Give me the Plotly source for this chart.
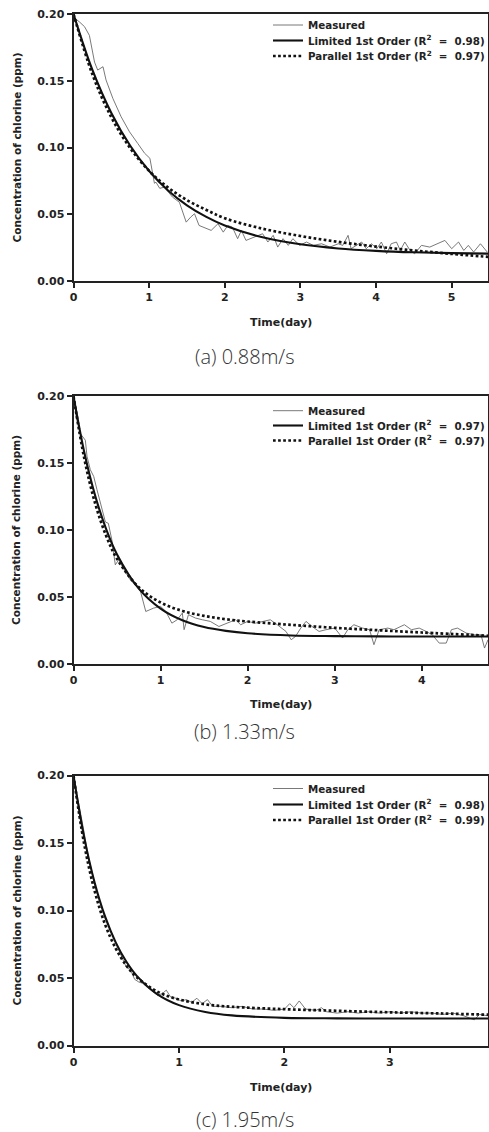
import plotly.graph_objects as go

W, H = 489, 1132

# ---------------- data ----------------
# (a) 0.88 m/s
t_meas_a = [0, 0.013, 0.08, 0.146, 0.21, 0.234, 0.278, 0.32, 0.39, 0.43,
            0.52, 0.63, 0.74, 0.85, 0.94, 1.01, 1.04, 1.07, 1.09, 1.14,
            1.20, 1.31, 1.40, 1.44, 1.49, 1.55, 1.60, 1.66, 1.82, 1.91,
            1.98, 2.04, 2.10, 2.17, 2.22, 2.28, 2.39, 2.50, 2.57, 2.64,
            2.70, 2.77, 2.84, 2.90, 2.99, 3.08, 3.17, 3.28, 3.39, 3.50,
            3.56, 3.63, 3.67, 3.74, 3.81, 3.87, 3.94, 4.01, 4.07, 4.14,
            4.20, 4.27, 4.32, 4.38, 4.45, 4.51, 4.60, 4.71, 4.80, 4.91,
            5.00, 5.09, 5.16, 5.22, 5.29, 5.38, 5.47]
c_meas_a = [0.200, 0.197, 0.194, 0.1905, 0.184, 0.177, 0.164, 0.158, 0.1605, 0.1506,
            0.1368, 0.123, 0.1118, 0.103, 0.0957, 0.0919, 0.0831, 0.0732, 0.074, 0.0694,
            0.0703, 0.0628, 0.059, 0.0529, 0.0441, 0.0479, 0.0504, 0.0416, 0.0379, 0.0429,
            0.0366, 0.0416, 0.0404, 0.0317, 0.0379, 0.0304, 0.0329, 0.0354, 0.0292, 0.0342,
            0.0254, 0.0317, 0.0267, 0.0317, 0.0267, 0.0292, 0.0267, 0.0279, 0.0254, 0.0279,
            0.0267, 0.0342, 0.0242, 0.0267, 0.0292, 0.0242, 0.0279, 0.0242, 0.0292, 0.0204,
            0.0279, 0.0292, 0.0229, 0.0292, 0.0229, 0.0204, 0.0267, 0.0254, 0.0279, 0.0304,
            0.0242, 0.0292, 0.0229, 0.0267, 0.0217, 0.0279, 0.0217]
t_fit_a = [0, 0.25, 0.5, 0.75, 1.0, 1.25, 1.5, 1.75, 2.0, 2.5, 3.0, 3.5, 4.0, 4.5, 5.0, 5.5]
limited_a = [0.200, 0.1581, 0.1259, 0.1013, 0.0824, 0.0678, 0.0567, 0.0482, 0.0416,
             0.0327, 0.0275, 0.0244, 0.0226, 0.0215, 0.0209, 0.0205]
parallel_a = [0.200, 0.1548, 0.1227, 0.0995, 0.0825, 0.0700, 0.0606, 0.0534, 0.0470,
              0.0392, 0.0337, 0.0293, 0.0258, 0.0229, 0.0203, 0.0180]

# (b) 1.33 m/s
t_meas_b = [0, 0.009, 0.03, 0.078, 0.136, 0.155, 0.193, 0.232, 0.27, 0.33,
            0.366, 0.40, 0.44, 0.48, 0.52, 0.58, 0.65, 0.73, 0.77, 0.83,
            0.92, 1.0, 1.06, 1.13, 1.19, 1.25, 1.27, 1.32, 1.40, 1.48,
            1.57, 1.67, 1.77, 1.86, 1.92, 2.0, 2.09, 2.19, 2.26, 2.34,
            2.44, 2.50, 2.55, 2.61, 2.67, 2.74, 2.82, 2.90, 3.0, 3.09,
            3.15, 3.22, 3.32, 3.40, 3.45, 3.51, 3.61, 3.68, 3.80, 3.88,
            3.97, 4.05, 4.12, 4.20, 4.28, 4.34, 4.41, 4.51, 4.60, 4.68,
            4.72, 4.76]
c_meas_b = [0.200, 0.197, 0.1846, 0.172, 0.167, 0.155, 0.145, 0.140, 0.130, 0.115,
            0.106, 0.105, 0.0927, 0.074, 0.0778, 0.0703, 0.0629, 0.058, 0.054, 0.0392,
            0.0417, 0.043, 0.0392, 0.0305, 0.033, 0.038, 0.0256, 0.0368, 0.0343, 0.033,
            0.0318, 0.028, 0.0305, 0.033, 0.0293, 0.0318, 0.0305, 0.0318, 0.033, 0.0293,
            0.0243, 0.0181, 0.0206, 0.0268, 0.0318, 0.028, 0.0243, 0.0256, 0.0268, 0.0194,
            0.0256, 0.0293, 0.0268, 0.0256, 0.0144, 0.0256, 0.0268, 0.0256, 0.0293, 0.0256,
            0.0268, 0.0243, 0.0218, 0.0156, 0.0156, 0.0256, 0.0268, 0.0231, 0.0218, 0.0218,
            0.0119, 0.0181]
t_fit_b = [0, 0.125, 0.25, 0.375, 0.5, 0.75, 1.0, 1.25, 1.5, 1.75, 2.0, 2.5, 3.0, 3.5, 4.0, 4.76]
limited_b = [0.200, 0.1577, 0.1254, 0.1007, 0.0818, 0.0563, 0.0414, 0.0327, 0.0276,
             0.0247, 0.0229, 0.0213, 0.0208, 0.0206, 0.0205, 0.0205]
parallel_b = [0.200, 0.1531, 0.1196, 0.0957, 0.0785, 0.0572, 0.0459, 0.0396, 0.0359,
              0.0334, 0.0317, 0.0292, 0.0270, 0.0252, 0.0235, 0.0211]

# (c) 1.95 m/s
t_meas_c = [0, 0.03, 0.06, 0.1, 0.14, 0.18, 0.22, 0.26, 0.3, 0.35,
            0.4, 0.45, 0.5, 0.54, 0.58, 0.62, 0.66, 0.7, 0.75, 0.8,
            0.85, 0.88, 0.92, 0.97, 1.02, 1.07, 1.12, 1.17, 1.22, 1.27,
            1.32, 1.4, 1.5, 1.6, 1.7, 1.8, 1.9, 2.0, 2.05, 2.09,
            2.14, 2.2, 2.3, 2.35, 2.4, 2.5, 2.6, 2.7, 2.8, 2.9,
            3.0, 3.1, 3.2, 3.3, 3.4, 3.5, 3.6, 3.7, 3.8, 3.85, 3.93]
c_meas_c = [0.199, 0.188, 0.175, 0.158, 0.140, 0.127, 0.114, 0.104, 0.094, 0.085,
            0.076, 0.066, 0.058, 0.056, 0.049, 0.047, 0.046, 0.043, 0.040, 0.037,
            0.039, 0.041, 0.036, 0.035, 0.033, 0.034, 0.032, 0.035, 0.031, 0.034,
            0.029, 0.029, 0.028, 0.029, 0.027, 0.027, 0.026, 0.027, 0.031, 0.028,
            0.033, 0.027, 0.026, 0.028, 0.025, 0.024, 0.025, 0.024, 0.025, 0.024,
            0.025, 0.024, 0.025, 0.024, 0.024, 0.023, 0.024, 0.022, 0.019, 0.023, 0.022]
t_fit_c = [0, 0.1, 0.2, 0.3, 0.4, 0.5, 0.6, 0.8, 1.0, 1.25, 1.5, 2.0, 2.5, 3.0, 3.5, 3.93]
limited_c = [0.200, 0.1547, 0.1208, 0.0954, 0.0764, 0.0622, 0.0516, 0.0377, 0.0299,
             0.0248, 0.0223, 0.0205, 0.0201, 0.0200, 0.0200, 0.0200]
parallel_c = [0.200, 0.1499, 0.1146, 0.0896, 0.0720, 0.0594, 0.0506, 0.0397, 0.0341,
              0.0305, 0.0287, 0.0269, 0.0257, 0.0246, 0.0237, 0.0228]

captions = ["(a) 0.88m/s", "(b) 1.33m/s", "(c) 1.95m/s"]
r2_limited = ["0.98", "0.97", "0.98"]
r2_parallel = ["0.97", "0.97", "0.99"]
x_max = [5.48, 4.76, 3.93]
x_ticks = [[0, 1, 2, 3, 4, 5], [0, 1, 2, 3, 4], [0, 1, 2, 3]]
y_ticks = [0.0, 0.05, 0.10, 0.15, 0.20]

panels = [
    (t_meas_a, c_meas_a, t_fit_a, limited_a, parallel_a),
    (t_meas_b, c_meas_b, t_fit_b, limited_b, parallel_b),
    (t_meas_c, c_meas_c, t_fit_c, limited_c, parallel_c),
]

# ---------------- layout geometry (pixels) ----------------
plot_left, plot_right = 73.5, 488
plot_tops = [14, 396, 775.5]
plot_bottoms = [281, 664, 1045.5]
xtitle_y = [322, 704, 1087]
caption_y = [356, 731, 1119]
legend_rows = [[25, 40.5, 56], [410.7, 425.5, 440.5], [788.5, 804.5, 820]]
legend_left = 268

def px(x):
    return x / W

def py(y):
    return 1 - y / H

BOLD = dict(family="DejaVu Sans", size=11, color="#222", weight="bold")

fig = go.Figure()
layout = dict(
    width=W, height=H,
    margin=dict(l=0, r=0, t=0, b=0, autoexpand=False),
    paper_bgcolor="white", plot_bgcolor="white",
    showlegend=True,
    annotations=[],
)

nbsp = "\u00a0"
for i, (tm, cm, tf, lim, par) in enumerate(panels):
    k = "" if i == 0 else str(i + 1)
    xa, ya = "x" + k, "y" + k
    lg = []
    for j in range(3):
        n = 3 * i + j + 1
        lg.append("legend" if n == 1 else f"legend{n}")
    names = [
        "Measured",
        f"Limited 1st Order (R<sup>2</sup>{nbsp}{nbsp}={nbsp}{nbsp}{r2_limited[i]})",
        f"Parallel 1st Order (R<sup>2</sup>{nbsp}{nbsp}={nbsp}{nbsp}{r2_parallel[i]})",
    ]
    fig.add_trace(go.Scatter(x=tm, y=cm, mode="lines", name=names[0],
                             line=dict(color="#6a6a6a", width=0.9),
                             xaxis=xa, yaxis=ya, legend=lg[0]))
    fig.add_trace(go.Scatter(x=tf, y=lim, mode="lines", name=names[1],
                             line=dict(color="#111", width=2.1, shape="spline"),
                             xaxis=xa, yaxis=ya, legend=lg[1]))
    fig.add_trace(go.Scatter(x=tf, y=par, mode="lines", name=names[2],
                             line=dict(color="#111", width=2.7, shape="spline",
                                       dash="2.7px,2.4px"),
                             xaxis=xa, yaxis=ya, legend=lg[2]))

    axis_common = dict(showgrid=False, zeroline=False, showline=True,
                       linecolor="#222", linewidth=2, mirror=True,
                       ticks="outside", ticklen=5, tickwidth=1.5, tickcolor="#222",
                       tickfont=BOLD, automargin=False)
    layout["xaxis" + k] = dict(
        axis_common, domain=[px(plot_left), px(plot_right)],
        range=[0, x_max[i]], tickvals=x_ticks[i], anchor=ya)
    layout["yaxis" + k] = dict(
        axis_common, domain=[py(plot_bottoms[i]), py(plot_tops[i])],
        range=[0, 0.2], tickvals=y_ticks, tickformat=".2f", anchor=xa)

    for j in range(3):
        layout[lg[j]] = dict(
            x=px(legend_left), y=py(legend_rows[i][j]),
            xanchor="left", yanchor="middle",
            bgcolor="rgba(0,0,0,0)", borderwidth=0,
            font=dict(family="DejaVu Sans", size=10.3, color="#222", weight="bold"),
            itemwidth=30,
        )

    mid_y = (plot_tops[i] + plot_bottoms[i]) / 2
    layout["annotations"] += [
        dict(text="Concentration of chlorine (ppm)", textangle=-90,
             x=px(16), y=py(mid_y), xref="paper", yref="paper",
             xanchor="center", yanchor="middle", showarrow=False,
             font=dict(family="DejaVu Sans", size=10.5, color="#222", weight="bold")),
        dict(text="Time(day)", x=px((plot_left + plot_right) / 2), y=py(xtitle_y[i]),
             xref="paper", yref="paper", xanchor="center", yanchor="middle",
             showarrow=False, font=BOLD),
        dict(text=captions[i], x=0.5, y=py(caption_y[i]), xref="paper", yref="paper",
             xanchor="center", yanchor="middle", showarrow=False,
             font=dict(family="Open Sans", size=20, color="#333", weight=300)),
    ]

fig.update_layout(**layout)
fig.write_html(
    "out.html",
    config={"displayModeBar": False},
    post_script="document.body.style.margin='0';document.body.style.overflow='hidden';",
)
